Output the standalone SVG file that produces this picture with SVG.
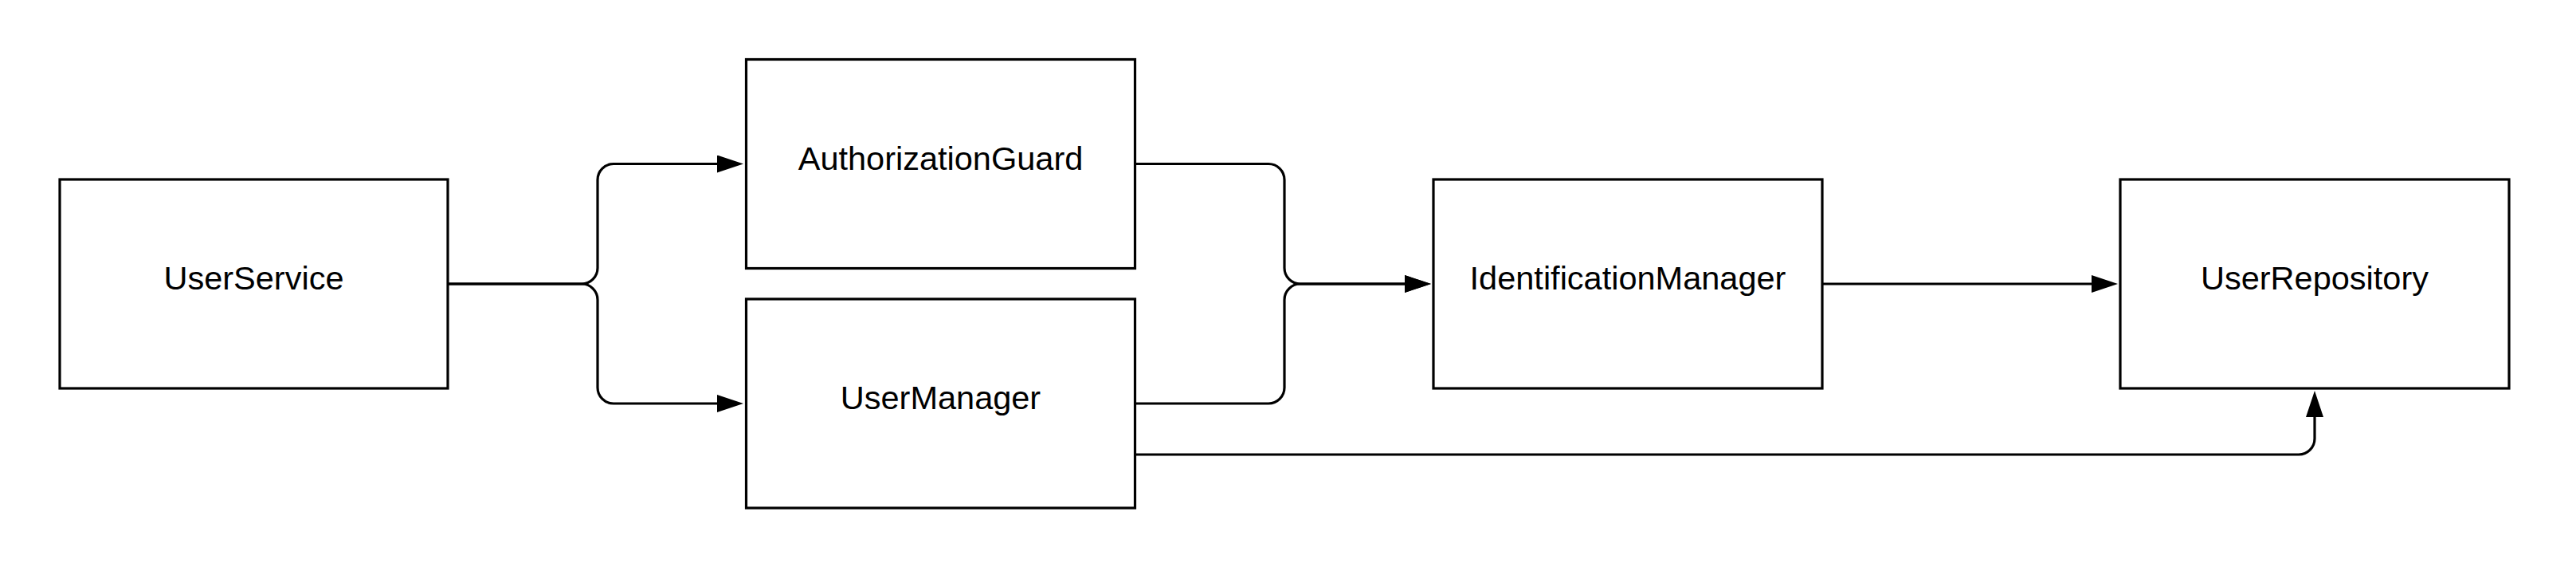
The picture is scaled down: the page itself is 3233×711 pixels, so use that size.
<svg xmlns="http://www.w3.org/2000/svg" width="3233" height="711" viewBox="0 0 3233 711">
  <style>
    .box { fill: #ffffff; stroke: #000000; stroke-width: 3.2; }
    .lbl { font-family: "Liberation Sans", Arial, sans-serif; font-size: 41.5px; fill: #000000; text-anchor: middle; }
    .conn { fill: none; stroke: #000000; stroke-width: 3.2; }
  </style>
  <defs>
    <marker id="arrow" markerUnits="userSpaceOnUse" markerWidth="34" markerHeight="22" refX="0" refY="11" orient="auto" viewBox="0 0 34 22">
      <path d="M0,0 L33,11 L0,22 z" fill="#000000"/>
    </marker>
  </defs>
  <rect x="0" y="0" width="3233" height="711" fill="#ffffff"/>

  <g id="connectors">
    <path class="conn" marker-end="url(#arrow)" d="M562,356 H730 A20,20 0 0 0 750,336 V225.5 A20,20 0 0 1 770,205.5 H900"/>
    <path class="conn" marker-end="url(#arrow)" d="M562,356 H730 A20,20 0 0 1 750,376 V486 A20,20 0 0 0 770,506 H900"/>
    <path class="conn" marker-end="url(#arrow)" d="M1424.5,205.5 H1592 A20,20 0 0 1 1612,225.5 V336 A20,20 0 0 0 1632,356 H1763"/>
    <path class="conn" marker-end="url(#arrow)" d="M1424.5,506 H1592 A20,20 0 0 0 1612,486 V376 A20,20 0 0 1 1632,356 H1763"/>
    <path class="conn" marker-end="url(#arrow)" d="M2287,356 H2625"/>
    <path class="conn" marker-end="url(#arrow)" d="M1424.5,570 H2885 A20,20 0 0 0 2905,550 V523"/>
  </g>

  <g id="node-userservice">
    <rect class="box" x="75" y="225" width="487" height="262"/>
    <text class="lbl" x="318.5" y="363">UserService</text>
  </g>
  <g id="node-authorizationguard">
    <rect class="box" x="936.5" y="74.5" width="488" height="262"/>
    <text class="lbl" x="1180.5" y="213">AuthorizationGuard</text>
  </g>
  <g id="node-usermanager">
    <rect class="box" x="936.5" y="375" width="488" height="262"/>
    <text class="lbl" x="1180.5" y="513">UserManager</text>
  </g>
  <g id="node-identificationmanager">
    <rect class="box" x="1799" y="225" width="488" height="262"/>
    <text class="lbl" x="2043" y="363">IdentificationManager</text>
  </g>
  <g id="node-userrepository">
    <rect class="box" x="2661" y="225" width="488" height="262"/>
    <text class="lbl" x="2905" y="363">UserRepository</text>
  </g>
</svg>
